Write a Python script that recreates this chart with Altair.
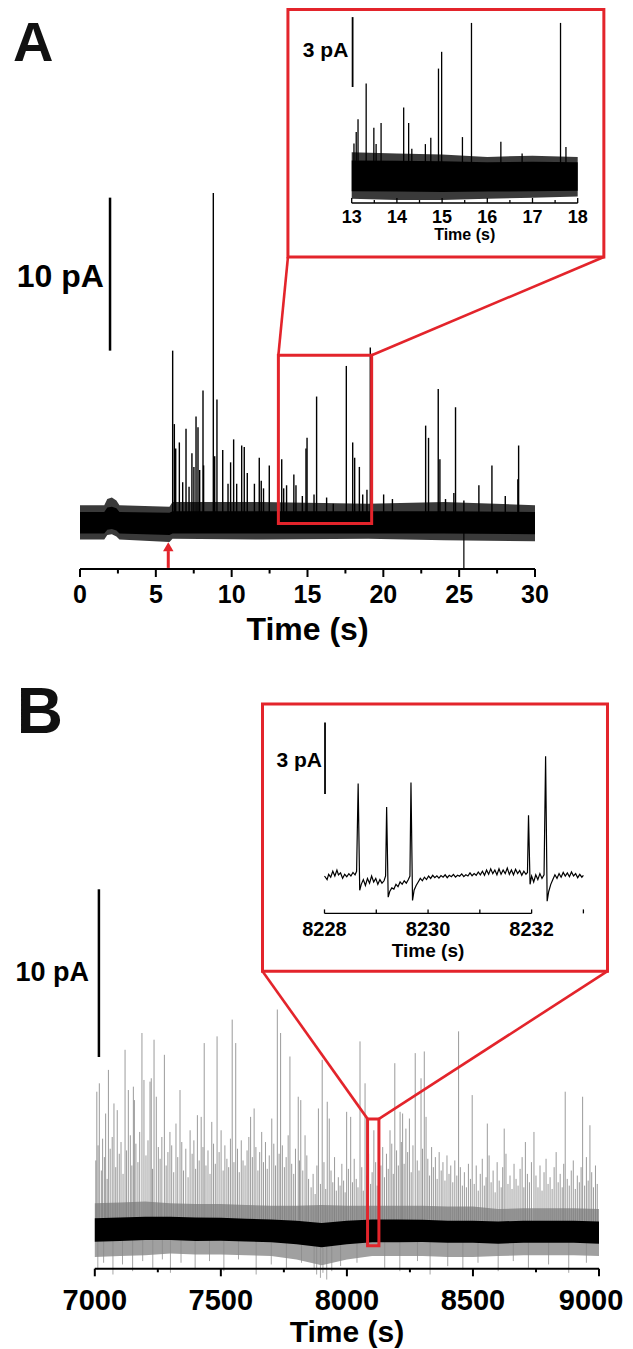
import altair as alt
import pandas as pd

FONT = "Liberation Sans"
RED = "#e3242b"
W, H = 617, 1341

# ================= Panel A : main trace (s, pA) =================
A_band_t = [0.0, 1.6, 1.8, 2.1, 2.4, 2.6, 5.9, 6.1, 12.0, 19.0, 24.0, 30.0]
A_core_hi = [0.65, 0.65, 0.95, 1.00, 0.90, 0.65, 0.60, 0.70, 0.70, 0.70, 0.70, 0.65]
A_core_lo = [-0.75, -0.75, -0.50, -0.45, -0.55, -0.75, -0.85, -0.75, -0.75, -0.75, -0.75, -0.80]
A_fringe_hi = [1.10, 1.10, 1.50, 1.60, 1.40, 1.10, 1.00, 1.30, 1.30, 1.20, 1.30, 1.10]
A_fringe_lo = [-1.15, -1.15, -0.85, -0.80, -0.95, -1.15, -1.30, -1.10, -1.15, -1.10, -1.20, -1.25]

A_spike_t = [6.11, 6.22, 6.31, 6.55, 6.77, 6.99, 7.19, 7.38, 7.51, 7.65,
             7.78, 7.89, 8.11, 8.15, 8.79, 8.88, 9.03, 9.41, 9.76, 9.93,
             10.13, 10.33, 10.66, 10.83, 11.03, 11.50, 11.82, 11.95, 12.10, 12.48,
             13.30, 13.43, 13.62, 14.10, 14.24, 14.66, 14.90, 14.97, 15.43, 15.60,
             16.26, 16.70, 17.56, 17.98, 18.11, 18.42, 18.64, 18.92, 19.14, 20.02,
             20.60, 22.79, 22.98, 23.62, 23.73, 24.10, 24.65, 24.76, 25.31, 26.30,
             27.16, 28.04, 28.87, 28.92]
A_spike_pa = [11.2, 6.4, 4.8, 5.2, 2.6, 6.1, 2.3, 4.5, 3.6, 6.9,
              6.2, 3.4, 8.6, 3.7, 21.5, 4.3, 8.0, 4.7, 2.5, 3.9,
              5.4, 2.5, 5.0, 4.9, 3.2, 2.5, 4.2, 2.7, 2.2, 3.7,
              4.1, 2.2, 2.4, 3.1, 2.4, 1.7, 4.8, 5.5, 1.8, 8.2,
              1.6, 1.2, 10.2, 5.2, 4.2, 3.6, 1.8, 2.1, 11.4, 1.8,
              1.5, 6.3, 5.5, 8.7, 4.1, 1.5, 1.9, 7.5, 1.4, 2.4,
              3.7, 1.7, 2.8, 5.0]
A_dip_t = [25.31]
A_dip_pa = [-3.05]
A_major = [0, 5, 10, 15, 20, 25, 30]
A_major_labels = ["0", "5", "10", "15", "20", "25", "30"]
A_minor = [2.5, 7.5, 12.5, 17.5, 22.5, 27.5]

A_bar_t, A_bar_lo, A_bar_hi = [1.98], [11.2], [21.2]
A_bar_text, A_bar_text_t, A_bar_text_pa = ["10 pA"], [1.58], [16.0]
A_letter, A_letter_t, A_letter_pa = ["A"], [-4.42], [30.16]
A_box_t, A_box_t2, A_box_pa, A_box_pa2 = [13.08], [19.23], [-0.1], [10.9]
A_frame_t, A_frame_t2, A_frame_pa, A_frame_pa2 = [13.71], [34.54], [17.32], [33.5]
A_link_t, A_link_pa = [13.08, 19.23], [10.9, 10.9]
A_link_t2, A_link_pa2 = [13.71, 34.54], [17.32, 17.32]
A_arrow_t, A_arrow_lo, A_arrow_hi, A_head_pa = [5.82], [-3.0], [-1.9], [-1.62]

# ================= Panel A : inset (13-18 s) =================
AI_band_t = [13.0, 14.0, 15.0, 16.0, 17.0, 18.0]
AI_core_hi = [0.70, 0.68, 0.66, 0.62, 0.64, 0.62]
AI_core_lo = [-0.62, -0.64, -0.66, -0.64, -0.62, -0.60]
AI_fringe_hi = [1.05, 1.00, 0.95, 0.85, 0.90, 0.85]
AI_fringe_lo = [-0.95, -1.00, -1.00, -0.95, -0.90, -0.85]
AI_spike_t = [13.05, 13.10, 13.14, 13.32, 13.49, 13.54, 13.65, 14.15, 14.26, 14.33,
              14.63, 14.75, 14.92, 14.99, 15.45, 15.65, 16.30, 16.77, 17.62, 17.74]
AI_spike_pa = [1.42, 1.92, 2.47, 4.00, 2.10, 1.40, 2.30, 2.97, 2.30, 1.20,
               1.40, 1.67, 4.64, 5.36, 1.70, 6.60, 1.50, 1.00, 6.60, 1.28]
AI_major = [13, 14, 15, 16, 17, 18]
AI_major_labels = ["13", "14", "15", "16", "17", "18"]
AI_minor = [13.5, 14.5, 15.5, 16.5, 17.5]
AI_bar_t, AI_bar_lo, AI_bar_hi = [13.02], [3.85], [6.85]
AI_bar_text, AI_bar_text_t, AI_bar_text_pa = ["3 pA"], [12.925], [5.39]

# ================= Panel B : main trace (s, pA) =================
B_band_t = [7000, 7100, 7200, 7300, 7400, 7500, 7600, 7700, 7800, 7900, 8000,
            8100, 8200, 8300, 8400, 8500, 8600, 8700, 8800, 8900, 9000]
B_center = [0.05, 0.1, 0.15, 0.15, 0.1, 0.1, 0.05, 0.0, -0.1, -0.25, -0.1,
            0.0, 0.0, 0.0, -0.05, -0.05, -0.1, -0.05, -0.05, -0.05, -0.1]
B_core_half = [0.70, 0.70, 0.70, 0.70, 0.70, 0.68, 0.68, 0.68, 0.70, 0.72, 0.70,
               0.68, 0.68, 0.66, 0.66, 0.66, 0.66, 0.66, 0.66, 0.66, 0.66]
B_fringe_half = [1.6, 1.6, 1.6, 1.5, 1.5, 1.5, 1.5, 1.5, 1.6, 1.8, 1.6,
                 1.5, 1.5, 1.5, 1.5, 1.5, 1.4, 1.4, 1.4, 1.4, 1.4]

B_spike_t = [7008, 7018, 7043, 7054, 7076, 7089, 7120, 7133, 7153, 7157,
             7187, 7195, 7219, 7224, 7235, 7244, 7276, 7298, 7322, 7338,
             7378, 7407, 7422, 7434, 7464, 7485, 7501, 7545, 7559, 7618,
             7632, 7662, 7702, 7724, 7737, 7774, 7807, 7817, 7834, 7887,
             7902, 7922, 7930, 7999, 8015, 8052, 8072, 8107, 8171, 8190,
             8211, 8221, 8234, 8248, 8271, 8294, 8307, 8314, 8443, 8497,
             8557, 8624, 8708, 8742, 8866, 8935, 8964,
             7004, 7013, 7026, 7031, 7038, 7049, 7061, 7069, 7083, 7097,
             7104, 7112, 7126, 7141, 7147, 7163, 7171, 7178, 7203, 7211,
             7229, 7252, 7259, 7266, 7283, 7290, 7305, 7313, 7329, 7345,
             7352, 7361, 7370, 7386, 7393, 7400, 7414, 7429, 7441, 7449,
             7457, 7471, 7478, 7493, 7509, 7516, 7524, 7531, 7538, 7552,
             7566, 7573, 7581, 7588, 7596, 7604, 7611, 7625, 7639, 7647,
             7654, 7669, 7677, 7684, 7692, 7710, 7717, 7731, 7744, 7752,
             7759, 7767, 7781, 7789, 7796, 7812, 7825, 7841, 7848,
             7858, 7866, 7874, 7881, 7895, 7909, 7916, 7937, 7944, 7951,
             7958, 7966, 7973, 7980, 7987, 7993, 8006, 8022, 8029, 8037,
             8044, 8059, 8065, 8079, 8086, 8094, 8100, 8114, 8120,
             8135, 8142, 8149, 8157, 8164, 8178, 8184, 8197, 8204, 8216,
             8227, 8241, 8255, 8262, 8279, 8286, 8300, 8321, 8328, 8336,
             8343, 8351, 8358, 8366, 8374, 8381, 8389, 8397, 8405, 8412,
             8420, 8428, 8436, 8450, 8458,
             8466, 8474, 8482, 8490, 8505, 8513, 8521, 8529, 8537, 8545,
             8552, 8564, 8572, 8580, 8588, 8596, 8604, 8612, 8618, 8631,
             8639, 8647, 8655, 8663, 8671, 8679, 8687, 8695, 8702, 8716,
             8724, 8732, 8750, 8758, 8766, 8774, 8782, 8790, 8798, 8806,
             8814, 8822, 8830, 8838, 8846, 8854, 8860, 8874, 8882, 8890,
             8898, 8906, 8914, 8922, 8929, 8943, 8950, 8957, 8971, 8978,
             8986, 8993]
B_spike_pa = [8.3, 8.8, 7.0, 9.6, 7.6, 7.2, 10.8, 8.4, 8.6, 7.8,
              11.8, 9.0, 8.9, 9.1, 11.4, 8.0, 10.5, 5.9, 6.4, 8.4,
              6.0, 6.9, 6.8, 11.2, 6.5, 11.6, 6.0, 12.6, 11.2, 6.8,
              7.3, 5.9, 6.7, 13.2, 11.8, 10.4, 8.0, 7.8, 5.7, 7.3,
              10.2, 7.7, 6.7, 7.1, 6.8, 11.3, 8.8, 6.0, 6.0, 10.0,
              7.1, 7.0, 6.1, 6.7, 10.6, 9.1, 10.7, 6.8, 11.9, 8.1,
              6.4, 6.1, 5.3, 5.9, 8.3, 8.0, 6.3,
              4.2, 5.1, 3.6, 5.5, 4.4, 3.1, 4.9, 5.6, 3.8, 4.6,
              5.3, 3.4, 4.8, 5.7, 3.9, 5.2, 4.1, 5.9, 4.5, 5.4,
              3.7, 5.0, 4.3, 5.6, 3.9, 4.7, 5.1, 3.5, 4.4, 5.3,
              3.6, 4.9, 3.2, 4.6, 5.4, 3.7, 4.2, 5.0, 3.9, 4.8,
              3.4, 5.2, 4.0, 4.7, 3.6, 5.1, 4.3, 3.8, 5.5, 4.1,
              4.9, 3.5, 5.4, 4.2, 3.9, 4.8, 5.6, 4.4, 5.0, 3.6,
              4.7, 4.1, 5.3, 3.7, 4.5, 5.2, 3.9, 4.6, 5.1, 3.8,
              4.4, 5.7, 4.0, 3.4, 4.9, 4.2, 3.6, 4.5, 3.1,
              2.6, 3.4, 2.2, 3.9, 2.8, 4.1, 2.5, 3.6, 2.9, 4.4,
              2.4, 3.2, 2.7, 4.0, 3.0, 2.3, 3.7, 2.9, 4.3, 3.1,
              2.6, 3.8, 2.4, 3.3, 4.6, 2.8, 3.5, 4.1, 2.7,
              3.9, 5.0, 3.2, 4.6, 3.7, 5.2, 3.4, 4.8, 3.9, 5.3,
              4.0, 4.7, 3.5, 5.1, 4.2, 3.6, 4.9, 4.3, 3.3, 5.0,
              3.8, 4.4, 3.1, 4.7, 3.6, 4.1, 3.0, 4.5, 3.4, 3.9,
              2.9, 4.2, 3.3, 3.8, 2.7,
              3.5, 2.6, 4.0, 3.1, 2.8, 3.9, 2.4, 3.4, 4.3, 2.7,
              3.2, 4.5, 2.9, 3.6, 2.3, 4.1, 3.0, 2.6, 3.8, 4.6,
              2.8, 3.3, 2.5, 4.0, 3.1, 2.7, 3.7, 4.4, 2.6, 3.4,
              2.9, 4.1, 3.3, 2.6, 3.9, 2.4, 3.5, 4.3, 2.8, 3.2,
              2.5, 3.8, 4.7, 2.9, 3.4, 2.6, 4.0, 3.1, 2.7, 3.6,
              4.2, 2.5, 3.3, 2.9, 3.8, 2.7, 4.4, 3.0, 3.5, 2.6,
              3.9, 2.8]
B_dip_t = [7012, 7035, 7072, 7110, 7150, 7190, 7230, 7268, 7300, 7342,
           7398, 7455, 7512, 7570, 7640, 7700, 7760, 7820, 7870, 7880,
           7895, 7905, 7920, 7940, 7975, 8040, 8150, 8210, 8280, 8330,
           8400, 8460, 8520, 8600, 8660, 8720, 8800, 8880, 8950]
B_dip_pa = [-2.3, -1.9, -2.6, -2.0, -2.4, -1.8, -2.2, -1.7, -2.5, -1.9,
            -2.3, -1.8, -2.4, -1.7, -2.6, -2.0, -2.2, -1.9, -2.3, -2.6,
            -2.8, -2.5, -2.9, -2.4, -2.1, -1.9, -2.2, -2.4, -1.8, -2.6,
            -2.1, -2.3, -1.9, -2.4, -1.8, -2.2, -2.0, -2.5, -1.9]
B_major = [7000, 7500, 8000, 8500, 9000]
B_major_labels = ["7000", "7500", "8000", "8500", "9000"]
B_minor = [7250, 7750, 8250, 8750]

B_bar_t, B_bar_lo, B_bar_hi = [7016.3], [10.37], [20.37]
B_bar_text, B_bar_text_t, B_bar_text_pa = ["10 pA"], [6977], [15.4]
B_letter, B_letter_t, B_letter_pa = ["B"], [6690], [29.7]
B_box_t, B_box_t2, B_box_pa, B_box_pa2 = [8082], [8127], [-0.88], [6.68]
B_frame_t, B_frame_t2, B_frame_pa, B_frame_pa2 = [7665.2], [9033.7], [15.49], [31.42]
B_link_t, B_link_pa = [8082, 8127], [6.68, 6.68]
B_link_t2, B_link_pa2 = [7665.2, 9033.7], [15.49, 15.49]

# ================= Panel B : inset (8228-8233 s) =================
BI_t = [8228.00, 8228.05, 8228.08, 8228.12, 8228.16, 8228.20, 8228.24, 8228.27, 8228.31, 8228.35,
        8228.39, 8228.43, 8228.47, 8228.51, 8228.55, 8228.59, 8228.62, 8228.65, 8228.68, 8228.71,
        8228.75, 8228.79, 8228.83, 8228.87, 8228.91, 8228.95, 8228.99, 8229.03, 8229.07, 8229.11,
        8229.15, 8229.18, 8229.20, 8229.23, 8229.26, 8229.30, 8229.34, 8229.38, 8229.42, 8229.46,
        8229.50, 8229.54, 8229.58, 8229.62, 8229.65, 8229.67, 8229.70, 8229.73, 8229.77, 8229.81,
        8229.85, 8229.89, 8229.93, 8229.97, 8230.01, 8230.05, 8230.09, 8230.13, 8230.17, 8230.21,
        8230.25, 8230.29, 8230.33, 8230.37, 8230.41, 8230.45, 8230.49, 8230.53, 8230.57, 8230.61,
        8230.65, 8230.69, 8230.73, 8230.77, 8230.81, 8230.85, 8230.89, 8230.93, 8230.97, 8231.01,
        8231.05, 8231.09, 8231.13, 8231.17, 8231.21, 8231.25, 8231.29, 8231.33, 8231.37, 8231.41,
        8231.45, 8231.49, 8231.53, 8231.57, 8231.61, 8231.65, 8231.69, 8231.73, 8231.77, 8231.81,
        8231.85, 8231.89, 8231.92, 8231.94, 8231.97, 8232.00, 8232.04, 8232.08, 8232.12, 8232.16,
        8232.20, 8232.24, 8232.27, 8232.30, 8232.33, 8232.37, 8232.41, 8232.45, 8232.49, 8232.53,
        8232.57, 8232.61, 8232.65, 8232.69, 8232.73, 8232.77, 8232.81, 8232.85, 8232.89, 8232.93,
        8232.97, 8233.00]
BI_pa = [0.05, -0.10, 0.12, 0.00, 0.25, 0.05, 0.30, 0.10, 0.18, -0.05,
         0.12, 0.02, 0.15, 0.05, 0.20, 0.10, 0.25, 3.94, -0.55, -0.30,
         -0.10, -0.35, -0.05, -0.25, 0.05, -0.20, -0.05, -0.30, -0.10, -0.25,
         -0.15, 0.05, 2.95, -0.84, -0.60, -0.45, -0.50, -0.30, -0.40, -0.20,
         -0.30, -0.15, -0.25, -0.10, 0.05, 3.98, -0.98, -0.55, -0.35, -0.20,
         -0.05, -0.15, 0.00, -0.10, 0.05, -0.05, 0.08, -0.02, 0.06, -0.04,
         0.07, 0.00, 0.10, -0.02, 0.08, 0.02, 0.12, 0.00, 0.08, 0.04,
         0.14, 0.02, 0.10, 0.05, 0.18, 0.06, 0.15, 0.08, 0.22, 0.10,
         0.25, 0.08, 0.30, 0.12, 0.35, 0.15, 0.30, 0.10, 0.35, 0.12,
         0.30, 0.15, 0.38, 0.12, 0.30, 0.10, 0.33, 0.15, 0.28, 0.08,
         0.25, 0.12, 0.20, 2.60, -0.30, 0.05, -0.20, 0.10, -0.10, 0.15,
         -0.05, 0.10, 5.08, -1.01, -0.60, -0.30, -0.10, 0.10, -0.05, 0.15,
         0.00, 0.20, 0.05, 0.18, 0.02, 0.22, 0.05, 0.15, -0.02, 0.12,
         0.00, 0.08]
BI_major = [8228, 8230, 8232]
BI_major_labels = ["8228", "8230", "8232"]
BI_minor = [8229, 8231, 8233]
BI_bar_t, BI_bar_lo, BI_bar_hi = [8228.01], [3.5], [6.5]
BI_bar_text, BI_bar_text_t, BI_bar_text_pa = ["3 pA"], [8227.95], [4.89]

AXIS_TITLE = "Time (s)"


# ---------------------------------------------------------------
def sc(dom, rng):
    return alt.Scale(domain=dom, range=rng, nice=False, zero=False)


class YMap:
    """pixel row (chart coords) -> pA for one linear y scale"""
    def __init__(self, base_px, px_per_unit):
        self.base, self.ppu = base_px, px_per_unit

    def v(self, px):
        return (self.base - px) / self.ppu


def group(xs, ys, layers):
    charts = []
    for df, mark, enc in layers:
        e = dict(enc)
        e["x"] = alt.X(e["x"], type="quantitative", scale=xs, axis=None)
        e["y"] = alt.Y(e["y"], type="quantitative", scale=ys, axis=None)
        if "x2" in e:
            e["x2"] = alt.X2(e["x2"])
        if "y2" in e:
            e["y2"] = alt.Y2(e["y2"])
        charts.append(getattr(alt.Chart(df), "mark_" + mark[0])(**mark[1]).encode(**e))
    return alt.layer(*charts)


def seg_df(t, lo, hi):
    return pd.DataFrame({"t": t, "lo": lo, "hi": hi})


def text_df(label, t, pa):
    return pd.DataFrame({"label": label, "t": t, "pa": pa})


def box_df(t, t2, pa, pa2):
    return pd.DataFrame({"t": t, "t2": t2, "pa": pa, "pa2": pa2})


def ticks_df(t, lo, hi):
    return pd.DataFrame({"t": t, "lo": [lo] * len(t), "hi": [hi] * len(t)})


def txt(size, align="right", baseline="middle", color="#000000", dx=0):
    kw = dict(align=align, baseline=baseline, font=FONT, fontSize=size,
              fontWeight="bold", color=color)
    if dx:
        kw["dx"] = dx
    return ("text", kw)


SEG = dict(x="t", y="lo", y2="hi")
TXT = dict(x="t", y="pa", text="label")
BOX = dict(x="t", x2="t2", y="pa", y2="pa2")


def axis_layers(ym, axis_px, major, labels, minor, major_len, minor_len, width,
                label_px, label_size, title_px, title_size, last_dx=0):
    """bottom time axis drawn with the panel's own scales (len > 0: ticks point down)"""
    y0 = ym.v(axis_px)
    ly = ym.v(label_px)
    rule = ("rule", dict(color="#000000", strokeWidth=width))
    out = [
        (box_df([major[0]], [major[-1]], [y0], [y0]), rule, BOX),
        (ticks_df(major, y0, ym.v(axis_px + major_len)), rule, SEG),
        (ticks_df(minor, y0, ym.v(axis_px + minor_len)), rule, SEG),
    ]
    if last_dx:
        out.append((text_df(labels[:-1], major[:-1], [ly] * (len(major) - 1)),
                    txt(label_size, "center", "alphabetic"), TXT))
        out.append((text_df(labels[-1:], major[-1:], [ly]),
                    txt(label_size, "center", "alphabetic", dx=last_dx), TXT))
    else:
        out.append((text_df(labels, major, [ly] * len(major)),
                    txt(label_size, "center", "alphabetic"), TXT))
    out.append((text_df([AXIS_TITLE], [(major[0] + major[-1]) / 2], [ym.v(title_px)]),
                txt(title_size, "center", "alphabetic"), TXT))
    return out


# ---------------- Panel A main ----------------
yA = YMap(514.0, 15.3)
XA = sc([0, 30], [72, 527])
YA = sc([-4, 22], [514.0 + 4 * 15.3, 514.0 - 22 * 15.3])
gA = group(XA, YA, [
    (seg_df(A_band_t, A_fringe_lo, A_fringe_hi), ("area", dict(color="#3a3a3a")), dict(x="t", y="hi", y2="lo")),
    (seg_df(A_band_t, A_core_lo, A_core_hi), ("area", dict(color="#000000")), dict(x="t", y="hi", y2="lo")),
    (seg_df(A_spike_t, [0.5] * len(A_spike_t), A_spike_pa), ("rule", dict(color="#000000", strokeWidth=1.4)), SEG),
    (seg_df(A_dip_t, [-0.6] * len(A_dip_t), A_dip_pa), ("rule", dict(color="#000000", strokeWidth=1.2)), SEG),
    *axis_layers(yA, 561.0, A_major, A_major_labels, A_minor, 8, 4.5, 2,
                 595.0, 25, 632.0, 32),
    (seg_df(A_bar_t, A_bar_lo, A_bar_hi), ("rule", dict(color="#000000", strokeWidth=2.5)), SEG),
    (text_df(A_bar_text, A_bar_text_t, A_bar_text_pa), txt(32), TXT),
    (text_df(A_letter, A_letter_t, A_letter_pa), txt(56, "left", "alphabetic", "#111111"), TXT),
    (box_df(A_box_t, A_box_t2, A_box_pa, A_box_pa2), ("rect", dict(fillOpacity=0, stroke=RED, strokeWidth=3)), BOX),
    (box_df(A_frame_t, A_frame_t2, A_frame_pa, A_frame_pa2), ("rect", dict(fillOpacity=0, stroke=RED, strokeWidth=3)), BOX),
    (box_df(A_link_t, A_link_t2, A_link_pa, A_link_pa2), ("rule", dict(color=RED, strokeWidth=2.6)), BOX),
    (seg_df(A_arrow_t, A_arrow_lo, A_arrow_hi), ("rule", dict(color=RED, strokeWidth=3)), SEG),
    (pd.DataFrame({"t": A_arrow_t, "pa": A_head_pa}), ("point", dict(shape="triangle-up", filled=True, size=110, color=RED, opacity=1)), dict(x="t", y="pa")),
])

# ---------------- Panel A inset ----------------
yAI = YMap(168.7, 23.3)
XAI = sc([13, 18], [343.7, 569.7])
YAI = sc([-1, 7], [168.7 + 1 * 23.3, 168.7 - 7 * 23.3])
gAI = group(XAI, YAI, [
    (seg_df(AI_band_t, AI_fringe_lo, AI_fringe_hi), ("area", dict(color="#3a3a3a")), dict(x="t", y="hi", y2="lo")),
    (seg_df(AI_band_t, AI_core_lo, AI_core_hi), ("area", dict(color="#000000")), dict(x="t", y="hi", y2="lo")),
    (seg_df(AI_spike_t, [0.4] * len(AI_spike_t), AI_spike_pa), ("rule", dict(color="#000000", strokeWidth=1.3)), SEG),
    *axis_layers(yAI, 195.0, AI_major, AI_major_labels, AI_minor, -5, -3, 1.3,
                 215.0, 18, 231.5, 16),
    (seg_df(AI_bar_t, AI_bar_lo, AI_bar_hi), ("rule", dict(color="#000000", strokeWidth=1.8)), SEG),
    (text_df(AI_bar_text, AI_bar_text_t, AI_bar_text_pa), txt(21), TXT),
])

# ---------------- Panel B main ----------------
yB = YMap(1222.9, 16.77)
XB = sc([7000, 9000], [86.8, 591])
YB = sc([-4, 21], [1222.9 + 4 * 16.77, 1222.9 - 21 * 16.77])
B_core_lo = [c - h for c, h in zip(B_center, B_core_half)]
B_core_hi = [c + h for c, h in zip(B_center, B_core_half)]
B_fr_lo = [c - h for c, h in zip(B_center, B_fringe_half)]
B_fr_hi = [c + h for c, h in zip(B_center, B_fringe_half)]
gB = group(XB, YB, [
    (seg_df(B_band_t, B_fr_lo, B_fr_hi), ("area", dict(color="#a0a0a0")), dict(x="t", y="hi", y2="lo")),
    (seg_df(B_spike_t, [0.0] * len(B_spike_t), B_spike_pa), ("rule", dict(color="#7a7a7a", strokeWidth=1, opacity=0.75)), SEG),
    (seg_df(B_dip_t, [0.0] * len(B_dip_t), B_dip_pa), ("rule", dict(color="#8a8a8a", strokeWidth=1, opacity=0.75)), SEG),
    (seg_df(B_band_t, B_core_lo, B_core_hi), ("area", dict(color="#000000")), dict(x="t", y="hi", y2="lo")),
    *axis_layers(yB, 1260.7, B_major, B_major_labels, B_minor, 7.6, 3.6, 2,
                 1302.0, 29, 1333.5, 30, last_dx=-8),
    (seg_df(B_bar_t, B_bar_lo, B_bar_hi), ("rule", dict(color="#000000", strokeWidth=2.5)), SEG),
    (text_df(B_bar_text, B_bar_text_t, B_bar_text_pa), txt(27), TXT),
    (text_df(B_letter, B_letter_t, B_letter_pa), txt(64, "left", "alphabetic", "#111111"), TXT),
    (box_df(B_box_t, B_box_t2, B_box_pa, B_box_pa2), ("rect", dict(fillOpacity=0, stroke=RED, strokeWidth=3)), BOX),
    (box_df(B_frame_t, B_frame_t2, B_frame_pa, B_frame_pa2), ("rect", dict(fillOpacity=0, stroke=RED, strokeWidth=3)), BOX),
    (box_df(B_link_t, B_link_t2, B_link_pa, B_link_pa2), ("rule", dict(color=RED, strokeWidth=2.6)), BOX),
])

# ---------------- Panel B inset ----------------
yBI = YMap(869.2, 23.8)
XBI = sc([8228, 8233], [316.5, 575.4])
YBI = sc([-2, 6], [869.2 + 2 * 23.8, 869.2 - 6 * 23.8])
gBI = group(XBI, YBI, [
    (pd.DataFrame({"t": BI_t, "pa": BI_pa}), ("line", dict(color="#000000", strokeWidth=1.2)), dict(x="t", y="pa")),
    *axis_layers(yBI, 905.4, BI_major, BI_major_labels, BI_minor, -4, -4, 1.3,
                 927.8, 20, 948.5, 19),
    (seg_df(BI_bar_t, BI_bar_lo, BI_bar_hi), ("rule", dict(color="#000000", strokeWidth=1.8)), SEG),
    (text_df(BI_bar_text, BI_bar_text_t, BI_bar_text_pa), txt(21), TXT),
])

chart = (
    alt.layer(gA, gAI, gB, gBI)
    .resolve_scale(x="independent", y="independent")
    .properties(width=W, height=H, autosize=alt.AutoSizeParams(type="none"), padding=0)
    .configure_view(stroke=None)
)

chart.save("out.html", embed_options={"renderer": "svg", "actions": False})
